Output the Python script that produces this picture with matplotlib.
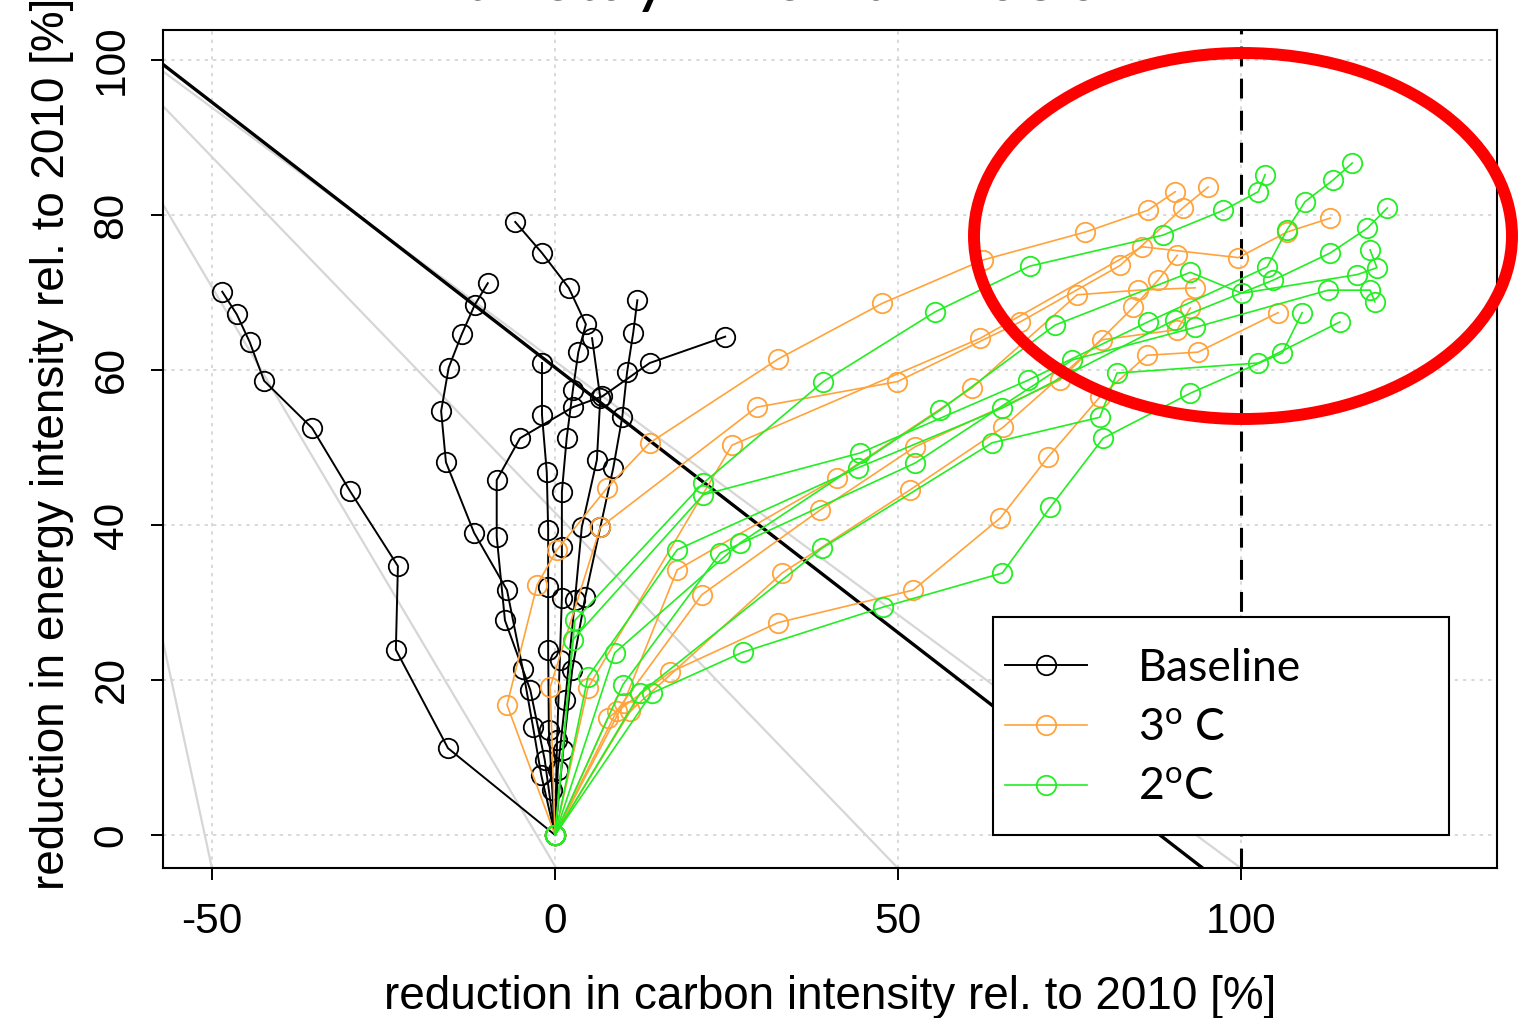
import numpy as np
import matplotlib.pyplot as plt
from matplotlib.patches import Ellipse, Rectangle

plt.rcParams['font.family'] = ['Liberation Sans', 'DejaVu Sans']
plt.rcParams['mathtext.fontset'] = 'custom'
plt.rcParams['mathtext.rm'] = 'Lato'
plt.rcParams['axes.unicode_minus'] = False

# (carbon intensity reduction, energy intensity reduction) in %, one list per model run
baseline_runs = [
    [(0, 0), (-15.6, 11.2), (-23.2, 23.9), (-22.9, 34.7), (-29.9, 44.4), (-35.4, 52.5),
     (-42.4, 58.6), (-44.5, 63.6), (-46.4, 67.2), (-48.5, 70.1)],
    [(0, 0), (-2.0, 7.7), (-3.2, 13.9), (-4.7, 21.4), (-7.0, 31.6), (-11.8, 39.0), (-15.9, 48.1),
     (-16.6, 54.7), (-15.5, 60.3), (-13.6, 64.6), (-11.7, 68.4), (-9.8, 71.2)],
    [(0, 0), (-0.4, 5.8), (-0.9, 13.5), (-1.0, 23.9), (-1.0, 32.0), (-1.0, 39.4), (-1.2, 46.8),
     (-1.9, 54.2), (-1.9, 60.9)],
    [(0, 0), (0.3, 12.3), (0.7, 22.6), (1.0, 30.6), (1.0, 37.2), (1.0, 44.3), (1.7, 51.2),
     (2.6, 57.4), (3.4, 62.3), (4.5, 65.9), (2.0, 70.6), (-1.9, 75.1), (-5.8, 79.1)],
    [(0, 0), (1.2, 11.0), (2.5, 21.3), (4.4, 30.7), (6.6, 39.7), (8.5, 47.4), (9.8, 53.9),
     (10.5, 59.7), (11.4, 64.8), (12.0, 69.0)],
    [(0, 0), (-1.5, 9.7), (-3.6, 18.7), (-7.3, 27.7), (-8.5, 38.5), (-8.5, 45.8), (-5.1, 51.2),
     (2.6, 55.2), (6.9, 56.6), (13.8, 60.9), (24.8, 64.3)],
    [(0, 0), (0.4, 8.4), (1.5, 17.4), (2.9, 30.3), (3.9, 39.7), (6.1, 48.4), (6.6, 56.4), (5.4, 64.1)],
]

deg3_runs = [
    [(0, 0), (-7.0, 16.8), (-2.6, 32.3), (0.3, 36.8), (7.6, 44.8), (13.8, 50.6), (32.5, 61.4),
     (47.7, 68.6), (62.4, 74.2), (77.3, 77.8), (86.4, 80.6), (90.4, 83.0)],
    [(0, 0), (-0.7, 19.1), (6.6, 39.7), (29.4, 55.2), (49.9, 58.5), (67.8, 66.2), (82.4, 73.5),
     (91.5, 80.9), (95.2, 83.6)],
    [(0, 0), (4.8, 19.0), (25.8, 50.3), (62.0, 64.1), (85.6, 75.9), (99.6, 74.5), (106.7, 77.8),
     (113.0, 79.6)],
    [(0, 0), (7.7, 15.1), (16.8, 21.0), (32.5, 27.4), (52.2, 31.6), (64.9, 40.9), (71.9, 48.8),
     (79.4, 56.5), (86.3, 61.9), (93.7, 62.3), (105.4, 67.4)],
    [(0, 0), (9.0, 16.0), (21.4, 31.0), (38.6, 41.9), (52.5, 50.1), (73.6, 58.7), (84.3, 68.1),
     (87.9, 71.6), (90.7, 74.8)],
    [(0, 0), (10.0, 17.0), (17.8, 34.2), (41.1, 46.1), (60.8, 57.7), (76.1, 69.7), (85.0, 70.3),
     (93.3, 70.6)],
    [(0, 0), (11.0, 16.0), (33.1, 33.8), (51.7, 44.5), (65.3, 52.6), (79.7, 63.9), (90.7, 65.2),
     (92.6, 68.0)],
]

deg2_runs = [
    [(0, 0), (2.9, 27.7), (21.6, 45.4), (39.1, 58.5), (55.4, 67.5), (69.2, 73.4), (88.6, 77.4),
     (97.4, 80.6), (102.5, 83.0), (103.5, 85.2)],
    [(0, 0), (2.6, 25.2), (21.6, 43.9), (44.5, 49.3), (69.0, 58.7), (86.4, 66.2), (103.8, 73.3),
     (106.7, 78.1), (109.3, 81.7), (113.4, 84.5), (116.2, 86.7)],
    [(0, 0), (4.8, 20.4), (17.8, 36.8), (44.2, 47.4), (65.2, 55.1), (90.4, 66.5), (104.7, 71.6),
     (113.0, 75.1), (118.4, 78.3), (121.3, 80.9)],
    [(0, 0), (8.7, 23.5), (27.0, 37.7), (56.1, 54.8), (72.9, 65.8), (92.6, 72.6), (100.1, 69.9),
     (116.9, 72.3), (119.8, 73.2), (118.8, 75.5)],
    [(0, 0), (9.9, 19.4), (24.1, 36.4), (52.5, 48.0), (75.4, 61.3), (93.3, 65.5), (112.7, 70.3),
     (118.8, 70.3), (119.5, 68.8)],
    [(0, 0), (12.4, 18.3), (38.9, 37.0), (63.7, 50.6), (79.4, 53.9), (81.9, 59.6), (102.5, 60.9),
     (114.4, 66.2)],
    [(0, 0), (14.1, 18.3), (27.4, 23.6), (47.8, 29.4), (65.2, 33.8), (72.2, 42.3), (79.9, 51.2),
     (92.6, 57.0), (106.0, 62.2), (108.9, 67.4)],
]

# light grey iso lines and the black target line (end points)
iso_lines = [[(-57.1, 98.5), (100, -4.3)],
             [(-57.1, 94.0), (50, -4.3)],
             [(-57.1, 81.3), (0.2, -4.3)],
             [(-57.1, 24.8), (-50, -4.3)]]
target_line = [(-57.1, 99.4), (94.3, -4.2)]

scenarios = [(baseline_runs, 'black', 'Baseline'),
             (deg3_runs, '#ffa33a', '3$^{\\mathrm{o}}$ C'),
             (deg2_runs, '#22ee22', '2$^{\\mathrm{o}}$C')]

fig = plt.figure(figsize=(15.18, 10.18), dpi=100)
ax = fig.add_axes([163 / 1518, 1 - 868 / 1018, 1334 / 1518, 838 / 1018])

for line in iso_lines:
    x, y = np.array(line).T
    ax.plot(x, y, color='#d6d6d6', lw=1.6, zorder=1)
x, y = np.array(target_line).T
ax.plot(x, y, color='black', lw=2.4, zorder=2)
ax.axvline(100, color='black', lw=2.2, dashes=(6.5, 4), zorder=2)

for runs, col, lab in scenarios:
    for i, run in enumerate(runs):
        x, y = np.array(run).T
        ax.plot(x, y, '-o', color=col, mfc='none', ms=14, mew=1.3,
                lw=1.4 if col == 'black' else 1.2,
                label=lab if i == 0 else None, zorder=3)

ax.set_xlim(-57.14, 137.3)
ax.set_ylim(-4.26, 103.87)
ax.set_xticks([-50, 0, 50, 100])
ax.set_yticks(range(0, 101, 20))
ax.grid(color='#d3d3d3', linestyle=(0, (2, 3)), lw=1.2)
ax.set_axisbelow(True)
for s in ax.spines.values():
    s.set_linewidth(1.5)
ax.tick_params(direction='out', length=8.6, width=1.4, labelsize=30.5)
ax.tick_params(axis='x', pad=16)
ax.tick_params(axis='y', pad=14)
plt.setp(ax.get_yticklabels(), rotation=90, va='center')

ax.set_xlabel('reduction in carbon intensity rel. to 2010 [%]', fontsize=33)
ax.set_ylabel('reduction in energy intensity rel. to 2010 [%]', fontsize=33)
ax.xaxis.set_label_coords(0.5, -0.128)
ax.yaxis.set_label_coords(-0.067, 0.506)

# legend box
ax.add_patch(Rectangle((0.6222, 0.0394), 0.3418, 0.2601, transform=ax.transAxes,
                       facecolor='white', edgecolor='black', lw=1.5, zorder=5))
leg = ax.legend(loc='center left', bbox_to_anchor=(0.6312, 0.1670), frameon=False,
                prop={'family': 'Lato', 'size': 32}, handlelength=1.85, handletextpad=1.15,
                labelspacing=0.42, borderpad=0, borderaxespad=0)
leg.set_zorder(6)

# slide title, mostly cut off at the top
fig.text(783 / 1518, 1.0, 'to stay close to 2050', ha='center', va='baseline',
         fontsize=50, family='Lato')

# red highlight ellipse
fig.add_artist(Ellipse((1243 / 1518, 1 - 236 / 1018), 538 / 1518, 366 / 1018,
                       transform=fig.transFigure, fill=False, edgecolor='red', lw=8.6, zorder=10))

fig.savefig('out.png', dpi=100)
